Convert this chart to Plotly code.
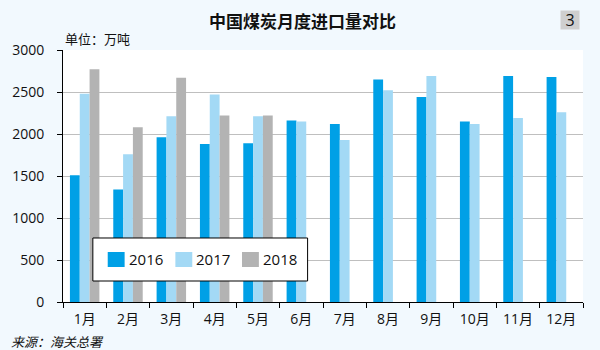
import plotly.graph_objects as go

months = ["1月", "2月", "3月", "4月", "5月", "6月", "7月", "8月", "9月", "10月", "11月", "12月"]
years = ["2016", "2017", "2018"]
imports_2016 = [1510, 1340, 1960, 1880, 1890, 2160, 2120, 2650, 2440, 2150, 2690, 2680]
imports_2017 = [2480, 1760, 2210, 2470, 2210, 2150, 1930, 2520, 2690, 2120, 2190, 2260]
imports_2018 = [2770, 2080, 2670, 2220, 2220, None, None, None, None, None, None, None]
y_ticks = [0, 500, 1000, 1500, 2000, 2500, 3000]

colors = ["#00A0E6", "#A3D9F5", "#B3B3B3"]
FONT = "Open Sans, Noto Sans CJK SC, sans-serif"
CJK = "Noto Sans CJK SC, sans-serif"

fig = go.Figure()
for name, vals, col in zip(years, [imports_2016, imports_2017, imports_2018], colors):
    fig.add_trace(go.Bar(name=name, x=months, y=vals,
                         marker=dict(color=col, line=dict(width=0)), showlegend=False))

fig.update_layout(
    width=600, height=350,
    margin=dict(l=60, r=17, t=50, b=48),
    paper_bgcolor="#F2F9FE",
    plot_bgcolor="#FFFFFF",
    barmode="group",
    bargap=0.32,
    bargroupgap=0,
    font=dict(family=FONT, size=14, color="#111111"),
    showlegend=False,
    xaxis=dict(
        showline=True, linecolor="#000000", linewidth=1,
        ticks="outside", tickson="boundaries", ticklen=5, tickcolor="#000000",
        tickfont=dict(size=14), showgrid=False, ticklabelstandoff=4,
    ),
    yaxis=dict(
        range=[0, 3000], tickvals=y_ticks,
        showline=True, linecolor="#000000", linewidth=1,
        ticks="outside", ticklen=5, tickcolor="#000000",
        showgrid=True, gridcolor="#BFBFBF", gridwidth=1,
        tickfont=dict(size=14), zeroline=False, ticklabelstandoff=10,
    ),
)

# Legend box drawn over the bars
fig.add_shape(type="rect", xref="paper", yref="paper", x0=0.0574, x1=0.4704, y0=0.0833, y1=0.254,
              fillcolor="#FFFFFF", line=dict(color="#000000", width=1), layer="above")
swatch_x = [0.0860, 0.2161, 0.3442]
label_x = [0.1224, 0.2524, 0.3805]
for name, col, sx, lx in zip(years, colors, swatch_x, label_x):
    fig.add_shape(type="rect", xref="paper", yref="paper", x0=sx, x1=sx + 0.0325,
                  y0=0.1389, y1=0.1984, fillcolor=col, line=dict(width=0), layer="above")
    fig.add_annotation(text=name, xref="paper", yref="paper", x=lx, y=0.1706,
                       xanchor="left", yanchor="middle", showarrow=False,
                       font=dict(size=15, family=FONT, color="#111111"))

fig.add_annotation(text="<b>中国煤炭月度进口量对比</b>", xref="paper", yref="paper",
                   x=0.46, y=1.0, yshift=30, yanchor="middle", showarrow=False,
                   font=dict(size=17, family=CJK, color="#111111"))
fig.add_annotation(text="3", xref="paper", yref="paper", x=0.995, y=1.0, yshift=30,
                   yanchor="middle", showarrow=False, bgcolor="#CFCFCF", width=16, height=16,
                   font=dict(size=16, family=FONT, color="#111111"))
fig.add_annotation(text="单位：万吨", xref="paper", yref="paper", x=0.0, y=1.0, yshift=12,
                   xanchor="left", yanchor="middle", showarrow=False,
                   font=dict(size=13, family=CJK, color="#111111"))
fig.add_annotation(text="来源：海关总署", xref="paper", yref="paper", x=-0.103, y=0.0, yshift=-39,
                   xanchor="left", yanchor="middle", showarrow=False,
                   font=dict(size=13, family=CJK, color="#111111", style="italic"))

fig.write_html("out.html")
